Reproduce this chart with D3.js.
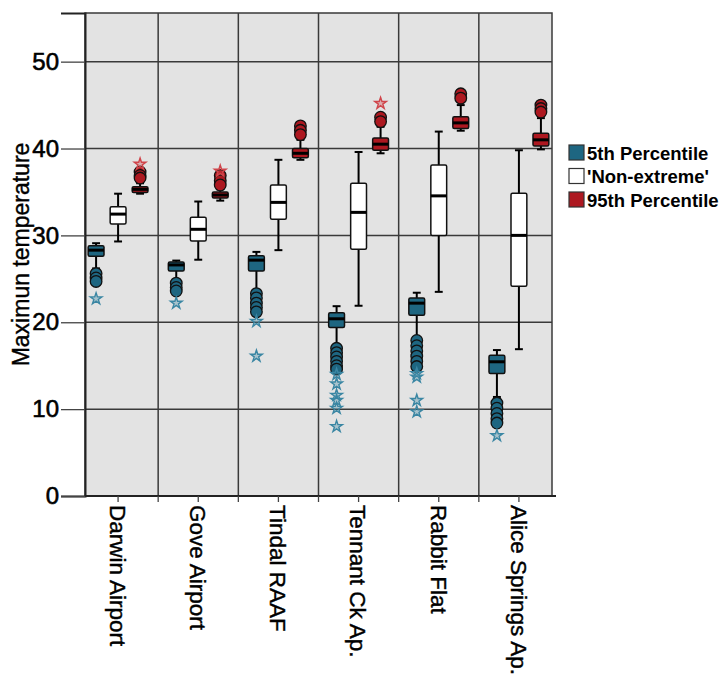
<!DOCTYPE html>
<html>
<head>
<meta charset="utf-8">
<script src="https://cdn.jsdelivr.net/npm/d3@7"></script>
<style>
  body { margin: 0; background: #fff; }
  text { font-family: "Liberation Sans", Arial, sans-serif; }
</style>
</head>
<body>
<div id="chart"></div>
<script>
// Stations along the x axis
const stations = ["Darwin Airport", "Gove Airport", "Tindal RAAF", "Tennant Ck Ap.", "Rabbit Flat", "Alice Springs Ap."];
const series = ["5th Percentile", "'Non-extreme'", "95th Percentile"];
const yTicks = [0, 10, 20, 30, 40, 50];

// box stats per station: [lower whisker, q1, median, q3, upper whisker]
const p5Stats = [
  [26.2, 27.6, 28.3, 28.8, 29.1],
  [24.85, 25.9, 26.6, 26.95, 27.1],
  [23.7, 25.9, 27.15, 27.65, 28.1],
  [17.4, 19.4, 20.4, 21.1, 21.85],
  [18.3, 20.8, 22.2, 22.8, 23.4],
  [11.4, 14.1, 15.45, 16.2, 16.8]
];
const nonStats = [
  [29.3, 31.3, 32.45, 33.3, 34.8],
  [27.2, 29.35, 30.7, 32.1, 33.9],
  [28.3, 31.85, 33.8, 35.8, 38.7],
  [21.9, 28.4, 32.65, 36.0, 39.6],
  [23.5, 30.0, 34.55, 38.1, 41.95],
  [16.9, 24.15, 30.0, 34.85, 39.8]
];
const p95Stats = [
  [34.8, 34.95, 35.3, 35.6, 36.0],
  [34.0, 34.3, 34.65, 35.0, 35.3],
  [38.7, 38.95, 39.45, 40.0, 41.0],
  [39.45, 39.8, 40.5, 41.2, 42.5],
  [42.05, 42.3, 42.95, 43.65, 45.0],
  [39.9, 40.3, 41.0, 41.75, 43.5]
];

// outliers (circles) and extremes (stars)
const p5Outliers = [
  [25.6, 25.1, 24.7],
  [24.5, 24.0, 23.6],
  [23.3, 22.8, 22.2, 21.7, 21.2],
  [17.0, 16.5, 16.0, 15.5, 15.0, 14.6],
  [17.9, 17.3, 16.7, 16.1, 15.5, 14.9],
  [10.7, 10.1, 9.5, 8.9, 8.4]
];
const p5Extremes = [
  [22.7],
  [22.2],
  [20.1, 16.1],
  [14.0, 12.9, 11.6, 11.0, 10.1, 8.0],
  [14.1, 13.7, 11.0, 9.7],
  [6.95]
];
const p95Outliers = [
  [37.3, 36.9, 36.6],
  [36.9, 36.3, 35.8],
  [42.6, 42.1, 41.6],
  [43.6, 43.1],
  [46.3, 45.8],
  [45.0, 44.6, 44.2]
];
const p95Extremes = [
  [38.2],
  [37.4],
  [],
  [45.2],
  [],
  []
];

const fills = ["#1e6681", "#ffffff", "#ad1820"];
const starColors = ["#3a86a3", null, "#d0454b"];

const width = 722, height = 686;
const frame = { left: 85, right: 552, top: 13, bottom: 496 };

const svg = d3.select("#chart").append("svg")
  .attr("width", width)
  .attr("height", height);

// scales
const x = d3.scaleBand().domain(stations).range([78, 559]).padding(0);
const sub = d3.scaleBand().domain(series).range([-33, 33]).padding(0);
const y = d3.scaleLinear().domain([0, 55.6]).range([frame.bottom, frame.top]);
const boxW = sub.bandwidth() * 0.72;

// plot background
svg.append("rect")
  .attr("x", frame.left).attr("y", frame.top)
  .attr("width", frame.right - frame.left).attr("height", frame.bottom - frame.top)
  .attr("fill", "#e3e3e3");

// grid lines
const gridColor = "#3a3a3a";
svg.append("g").selectAll("line")
  .data(yTicks.filter(d => d > 0))
  .enter().append("line")
  .attr("x1", frame.left).attr("x2", frame.right)
  .attr("y1", d => y(d)).attr("y2", d => y(d))
  .attr("stroke", gridColor).attr("stroke-width", 1.5);

svg.append("g").selectAll("line")
  .data(stations.slice(1))
  .enter().append("line")
  .attr("x1", d => x(d)).attr("x2", d => x(d))
  .attr("y1", frame.top).attr("y2", frame.bottom)
  .attr("stroke", gridColor).attr("stroke-width", 1.5);

// frame
svg.append("rect")
  .attr("x", frame.left).attr("y", frame.top)
  .attr("width", frame.right - frame.left).attr("height", frame.bottom - frame.top)
  .attr("fill", "none").attr("stroke", gridColor).attr("stroke-width", 1.5);

// y axis
const yAxis = svg.append("g")
  .attr("transform", `translate(${frame.left},0)`)
  .call(d3.axisLeft(y).tickValues(yTicks).tickSize(24).tickPadding(2).tickFormat(d3.format("d")));
yAxis.select(".domain").attr("stroke", "#222").attr("stroke-width", 2);
yAxis.selectAll(".tick line").attr("stroke", "#444").attr("stroke-width", 1.3);
yAxis.selectAll(".tick text")
  .attr("font-size", "24px").attr("fill", "#000")
  .attr("stroke", "#000").attr("stroke-width", 0.6)
  .style("font-family", "'Liberation Sans', Arial, sans-serif");

// x axis: ticks at centers and boundaries
const xTickPos = [];
stations.forEach(s => { xTickPos.push(x(s)); xTickPos.push(x(s) + x.bandwidth() / 2); });
xTickPos.push(x(stations[stations.length - 1]) + x.bandwidth());
const xg = svg.append("g");
xg.append("line")
  .attr("x1", frame.left).attr("x2", 556)
  .attr("y1", frame.bottom).attr("y2", frame.bottom)
  .attr("stroke", "#222").attr("stroke-width", 2);
xg.selectAll("line.tk")
  .data(xTickPos.filter(p => p > frame.left && p < 557))
  .enter().append("line")
  .attr("class", "tk")
  .attr("x1", d => d).attr("x2", d => d)
  .attr("y1", frame.bottom).attr("y2", frame.bottom + 6)
  .attr("stroke", "#444").attr("stroke-width", 1.3);
xg.selectAll("text")
  .data(stations)
  .enter().append("text")
  .attr("transform", d => `translate(${x(d) + x.bandwidth() / 2},${frame.bottom + 9}) rotate(90)`)
  .attr("dy", "0.36em")
  .attr("font-size", "22.5px")
  .attr("stroke", "#000").attr("stroke-width", 0.4)
  .attr("text-anchor", "start")
  .text(d => d);

// y title
svg.append("text")
  .attr("transform", `translate(29,${(frame.top + frame.bottom) / 2}) rotate(-90)`)
  .attr("text-anchor", "middle")
  .attr("font-size", "23px")
  .attr("stroke", "#000").attr("stroke-width", 0.4)
  .text("Maximun temperature");

// boxes
const statsList = [p5Stats, nonStats, p95Stats];
const outlierList = [p5Outliers, null, p95Outliers];
const extremeList = [p5Extremes, null, p95Extremes];
const star = d3.symbol().type(d3.symbolStar).size(42);

series.forEach((ser, si) => {
  const g = svg.append("g");
  stations.forEach((st, i) => {
    const cx = x(st) + x.bandwidth() / 2 + sub(ser) + sub.bandwidth() / 2;
    const [lo, q1, med, q3, hi] = statsList[si][i];
    const capW = boxW * 0.5;
    // whiskers
    g.append("line").attr("x1", cx).attr("x2", cx).attr("y1", y(hi)).attr("y2", y(q3))
      .attr("stroke", "#000").attr("stroke-width", 2);
    g.append("line").attr("x1", cx).attr("x2", cx).attr("y1", y(q1)).attr("y2", y(lo))
      .attr("stroke", "#000").attr("stroke-width", 2);
    g.append("line").attr("x1", cx - capW / 2).attr("x2", cx + capW / 2).attr("y1", y(hi)).attr("y2", y(hi))
      .attr("stroke", "#000").attr("stroke-width", 2);
    g.append("line").attr("x1", cx - capW / 2).attr("x2", cx + capW / 2).attr("y1", y(lo)).attr("y2", y(lo))
      .attr("stroke", "#000").attr("stroke-width", 2);
    // box
    g.append("rect")
      .attr("x", cx - boxW / 2).attr("y", y(q3))
      .attr("width", boxW).attr("height", y(q1) - y(q3))
      .attr("rx", 1.5)
      .attr("fill", fills[si]).attr("stroke", "#111").attr("stroke-width", 1.5);
    g.append("line").attr("x1", cx - boxW / 2).attr("x2", cx + boxW / 2).attr("y1", y(med)).attr("y2", y(med))
      .attr("stroke", "#000").attr("stroke-width", 3);
    // outliers
    if (outlierList[si]) {
      g.selectAll(null).data(outlierList[si][i]).enter().append("circle")
        .attr("cx", cx).attr("cy", d => y(d)).attr("r", 5.8)
        .attr("fill", fills[si]).attr("stroke", "#111").attr("stroke-width", 1.3);
      g.selectAll(null).data(extremeList[si][i]).enter().append("path")
        .attr("d", star)
        .attr("transform", d => `translate(${cx},${y(d)})`)
        .attr("fill", starColors[si]).attr("fill-opacity", 0.35)
        .attr("stroke", starColors[si]).attr("stroke-width", 1.4);
    }
  });
});

// legend
const legend = svg.append("g").attr("transform", "translate(569,145)");
series.forEach((s, i) => {
  const row = legend.append("g").attr("transform", `translate(0,${i * 23.5})`);
  row.append("rect").attr("x", 0).attr("y", 0).attr("width", 15).attr("height", 15)
    .attr("fill", fills[i]).attr("stroke", "#333").attr("stroke-width", 1.2);
  row.append("text").attr("x", 18).attr("y", 14.5)
    .attr("font-size", "18.5px").attr("font-weight", "bold")
    .text(s);
});
</script>
</body>
</html>
